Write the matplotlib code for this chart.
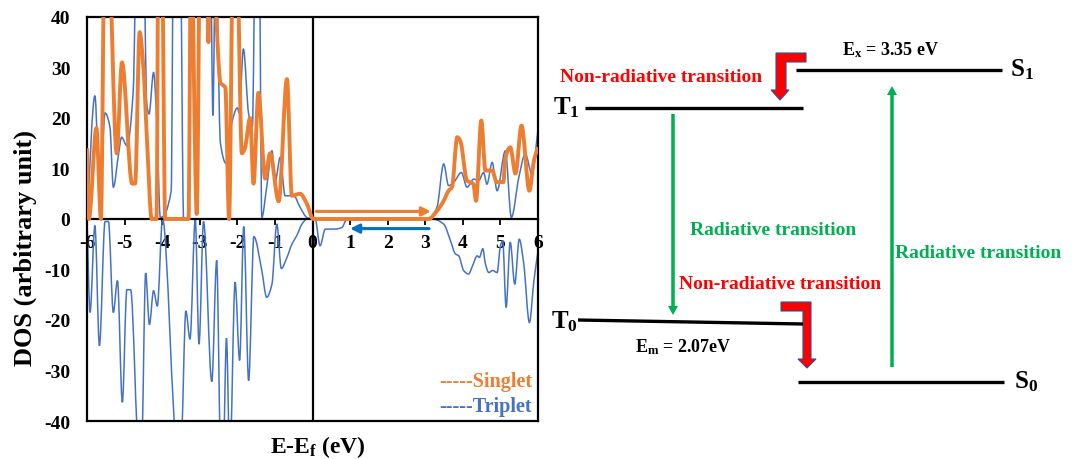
import numpy as np
import matplotlib
matplotlib.use('Agg')
import matplotlib.pyplot as plt
from matplotlib.patches import Polygon, PathPatch
from matplotlib.path import Path

plt.rcParams['font.family'] = ['Liberation Serif', 'DejaVu Serif']
plt.rcParams['font.weight'] = 'bold'
plt.rcParams['axes.labelweight'] = 'bold'
plt.rcParams['axes.unicode_minus'] = False
plt.rcParams['mathtext.fontset'] = 'custom'
plt.rcParams['mathtext.rm'] = 'Liberation Serif:bold'
plt.rcParams['mathtext.bf'] = 'Liberation Serif:bold'
plt.rcParams['mathtext.it'] = 'Liberation Serif:bold'

# DOS do estado singleto (laranja)
e_singlet = [-6.0, -5.95, -5.75, -5.63, -5.53, -5.44, -5.21, -5.07, -4.8, -4.72,
             -4.6, -4.5, -4.4, -4.28, -4.15, -4.1, -4.01, -3.92, -3.3, -3.23,
             -3.08, -2.99, -2.82, -2.77, -2.72, -2.6, -2.45, -2.32, -2.22, -2.11,
             -2.02, -1.88, -1.8, -1.66, -1.57, -1.44, -1.26, -1.13, -0.9, -0.68,
             -0.55, -0.33, -0.15, 0.02, 3.09, 3.3, 3.49, 3.62, 3.71, 3.85,
             3.93, 4.11, 4.28, 4.35, 4.49, 4.6, 4.78, 4.9, 5.08, 5.12,
             5.26, 5.4, 5.56, 5.77, 5.89, 6.0]
dos_singlet = [14, 0, 18, 0, 55, 55, 13, 31, 7, 7,
               37, 30, 15, 0, 0, 55, 55, 0, 0, 55,
               1, 55, 55, 35, 55, 45, 27, 26, 0, 55,
               55, 13, 14, 20, 7, 25, 8, 13, 3.5, 27.7,
               4.6, 5, 3, 0, 0, 1.5, 3.6, 5.6, 6.3, 16.2,
               15.5, 7.6, 6.9, 3.6, 19.5, 9.6, 9.6, 7.3, 7.3, 11.6,
               14.2, 9, 18.5, 5.6, 11.6, 14.2]

# DOS do estado tripleto, spin up
e_trip_up = [-6.0, -5.79, -5.66, -5.52, -5.39, -5.3, -5.16, -5.08, -4.94, -4.77,
             -4.68, -4.5, -4.41, -4.35, -4.23, -4.14, -4.05, -3.76, -3.7, -3.52,
             -3.43, -3.3, -3.22, -2.72, -2.65, -2.58, -2.45, -2.3, -2.15, -2.0,
             -1.95, -1.84, -1.7, -1.6, -1.52, -1.42, -1.35, -1.22, -1.08, -0.99,
             -0.86, -0.73, -0.5, -0.33, -0.15, 0.0, 3.09, 3.31, 3.49, 3.62,
             3.76, 3.96, 4.11, 4.29, 4.42, 4.55, 4.64, 4.78, 4.91, 5.13,
             5.29, 5.49, 5.66, 5.84, 6.0]
dos_trip_up = [0, 24.4, 4, 21, 18.2, 6.3, 12.9, 16.2, 14.5, 25.4,
               55, 55, 22.8, 20.8, 29, 18.8, 0.3, 5.6, 55, 55,
               0, 0, 55, 55, 20.5, 55, 15, 11, 19, 22,
               21, 33.7, 20.8, 18.2, 55, 55, 0.3, 6.3, 13.5, 7.6,
               12.2, 4.6, 4.6, 2.3, 0.3, 0, 0, 2.3, 10.9, 6.6,
               7.3, 9.2, 6.3, 7.9, 7.6, 9.2, 6.9, 11.2, 5.6, 13.5,
               0.3, 8.3, 12.9, 8.9, 17.8]

# DOS do estado tripleto, spin down
e_trip_dn = [-6.0, -5.92, -5.79, -5.67, -5.52, -5.43, -5.3, -5.19, -5.06, -4.94,
             -4.84, -4.62, -4.55, -4.44, -4.34, -4.23, -4.13, -3.99, -3.6, -3.5,
             -3.37, -3.26, -3.12, -3.02, -2.9, -2.68, -2.55, -2.44, -2.38, -2.29,
             -2.2, -2.06, -1.94, -1.83, -1.7, -1.56, -1.35, -1.22, -1.08, -0.95,
             -0.83, -0.68, -0.55, -0.42, -0.28, -0.15, 0.07, 0.2, 0.34, 0.6,
             0.78, 0.92, 3.18, 3.49, 3.67, 3.8, 3.89, 4.02, 4.15, 4.26,
             4.38, 4.44, 4.53, 4.6, 4.69, 4.79, 4.91, 5.0, 5.06, 5.15,
             5.26, 5.38, 5.5, 5.62, 5.77, 5.89, 6.0]
dos_trip_dn = [0, -18.5, -1.3, -25.1, -0.5, -0.5, -18.5, -12.2, -36.3, -14,
               -14, -46, -46, -10.7, -20.9, -14.2, -17.2, 0, -45, -45,
               -18.2, -23.8, 0, -24.8, -0.5, -32.2, -8.2, -48, -48, -23.6,
               -48, -12.5, -28, -1.5, -32, -3.5, -10.2, -15.5, -12.9, -1,
               -9.8, -7.6, -5, -3.3, -1, 0, 0, -5.3, -2, -2,
               -1.7, 0, 0, -1, -4.3, -6.9, -7.3, -10.2, -10.9, -9.2,
               -7.3, -7.6, -5.9, -8.9, -10.6, -10.2, -10.6, -5.3, -4.3, -17.5,
               -4.6, -12.9, -4, -8.9, -20.5, -12.2, -6.3]

# setas de excitação na região do gap (x inicial, x final, y)
seta_singlet = (0.1, 3.15, 1.5)
seta_triplet = (3.1, 1.0, -1.9)

LARANJA = '#ED7D31'
AZUL = '#4472C4'
AZUL_SETA = '#0070C0'
VERDE = '#00B050'
VERMELHO = '#FF0000'


def linha_suave(x, y):
    # linha suavizada (estilo Excel) passando pelos pontos, com tangentes monótonas
    x = np.asarray(x, float)
    y = np.asarray(y, float)
    h = np.diff(x)
    d = np.diff(y) / h
    m = np.zeros_like(y)
    m[0], m[-1] = d[0], d[-1]
    for k in range(1, len(x) - 1):
        if d[k - 1] * d[k] > 0:
            w1 = 2 * h[k] + h[k - 1]
            w2 = h[k] + 2 * h[k - 1]
            m[k] = (w1 + w2) / (w1 / d[k - 1] + w2 / d[k])
    verts = [(x[0], y[0])]
    codes = [Path.MOVETO]
    for k in range(len(x) - 1):
        verts += [(x[k] + h[k] / 3, y[k] + m[k] * h[k] / 3),
                  (x[k + 1] - h[k] / 3, y[k + 1] - m[k + 1] * h[k] / 3),
                  (x[k + 1], y[k + 1])]
        codes += [Path.CURVE4] * 3
    return Path(verts, codes)


fig = plt.figure(figsize=(10.85, 4.6), dpi=100)

# GRÁFICO DA DOS
ax = fig.add_axes([0.0802, 0.0826, 0.4157, 0.8783])
ax.add_patch(PathPatch(linha_suave(e_trip_up, dos_trip_up), fill=False,
                       edgecolor=AZUL, lw=1.1, zorder=2))
ax.add_patch(PathPatch(linha_suave(e_trip_dn, dos_trip_dn), fill=False,
                       edgecolor=AZUL, lw=1.1, zorder=2))
ax.add_patch(PathPatch(linha_suave(e_singlet, dos_singlet), fill=False,
                       edgecolor=LARANJA, lw=2.8, zorder=3, joinstyle='round'))

ax.annotate('', xy=(seta_singlet[1], seta_singlet[2]), xytext=(seta_singlet[0], seta_singlet[2]),
            arrowprops=dict(arrowstyle='-|>', color=LARANJA, lw=2.2, mutation_scale=13,
                            shrinkA=0, shrinkB=0), zorder=4)
ax.annotate('', xy=(seta_triplet[1], seta_triplet[2]), xytext=(seta_triplet[0], seta_triplet[2]),
            arrowprops=dict(arrowstyle='-|>', color=AZUL_SETA, lw=2.2, mutation_scale=13,
                            shrinkA=0, shrinkB=0), zorder=4)

ax.set_xlim(-6, 6)
ax.set_ylim(-40, 40)
ax.set_xticks(range(-6, 7))
ax.set_yticks(range(-40, 41, 10))
ax.spines['bottom'].set_position(('data', 0))
for s in ax.spines.values():
    s.set_linewidth(1.6)
ax.plot([0, 1], [0, 0], transform=ax.transAxes, color='black', lw=1.6, clip_on=False)
ax.axvline(0, color='black', lw=1.6, zorder=2.5)
ax.tick_params(axis='x', direction='out', length=4, width=1.3, pad=7, labelsize=14)
ax.tick_params(axis='y', length=0, pad=12, labelsize=14)

ax.set_ylabel('DOS (arbitrary unit)', fontsize=19, fontweight='bold')
ax.yaxis.set_label_coords(-0.11, 0.43)
ax.set_xlabel('E-E$_\\mathbf{f}$ (eV)', fontsize=17, fontweight='bold')
ax.xaxis.set_label_coords(0.512, -0.03)

ax.text(0.987, 0.099, '-----Singlet', color=LARANJA, fontsize=14.5,
        ha='right', va='center', transform=ax.transAxes)
ax.text(0.987, 0.037, '-----Triplet', color=AZUL, fontsize=14.5,
        ha='right', va='center', transform=ax.transAxes)

# DIAGRAMA DE NÍVEIS
dg = fig.add_axes([0, 0, 1, 1])
dg.set_xlim(0, 1085)
dg.set_ylim(460, 0)
dg.axis('off')
dg.patch.set_visible(False)

niveis = ['T$_\\mathbf{1}$', 'S$_\\mathbf{1}$', 'T$_\\mathbf{0}$', 'S$_\\mathbf{0}$']
nivel_x0 = [585, 796, 578, 798]
nivel_x1 = [803, 1002, 803, 1004]
nivel_y0 = [109, 71, 321, 383]
nivel_y1 = [109, 71, 325, 383]
rotulo_x = [553, 1010, 551, 1014]

for nome, x0, x1, y0, y1, xr in zip(niveis, nivel_x0, nivel_x1, nivel_y0, nivel_y1, rotulo_x):
    dg.plot([x0, x1], [y0, y1], color='black', lw=2.4, solid_capstyle='butt')
    dg.text(xr, (y0 + y1) / 2 - 1, nome, fontsize=18, ha='left', va='center')

# transições radiativas (setas verdes)
dg.arrow(673, 115, 0, 201, width=3.5, head_width=10, head_length=9,
         length_includes_head=True, color=VERDE, lw=0)
dg.arrow(892, 368, 0, -281, width=3.5, head_width=10, head_length=9,
         length_includes_head=True, color=VERDE, lw=0)

# transições não radiativas (setas vermelhas dobradas)
seta_s1_t1 = [(806, 54), (776, 54), (776, 91), (771, 91), (780, 101),
              (789, 91), (786, 91), (786, 63), (806, 63)]
seta_t0_s0 = [(781, 303), (811, 303), (811, 360), (816, 360), (807, 369),
              (798, 360), (803, 360), (803, 312), (781, 312)]
for pts in (seta_s1_t1, seta_t0_s0):
    dg.add_patch(Polygon(pts, closed=True, facecolor=VERMELHO,
                         edgecolor='#2F528F', lw=0.8))

dg.text(560, 77, 'Non-radiative transition', color=VERMELHO, fontsize=14,
        ha='left', va='center')
dg.text(679, 285, 'Non-radiative transition', color=VERMELHO, fontsize=14,
        ha='left', va='center')
dg.text(690, 231, 'Radiative transition', color=VERDE, fontsize=14,
        ha='left', va='center')
dg.text(895, 253, 'Radiative transition', color=VERDE, fontsize=14,
        ha='left', va='center')
dg.text(890, 50, 'E$_\\mathbf{x}$ = 3.35 eV', fontsize=13, ha='center', va='center')
dg.text(683, 347, 'E$_\\mathbf{m}$ = 2.07eV', fontsize=13, ha='center', va='center')

fig.savefig('out.png', dpi=100)
